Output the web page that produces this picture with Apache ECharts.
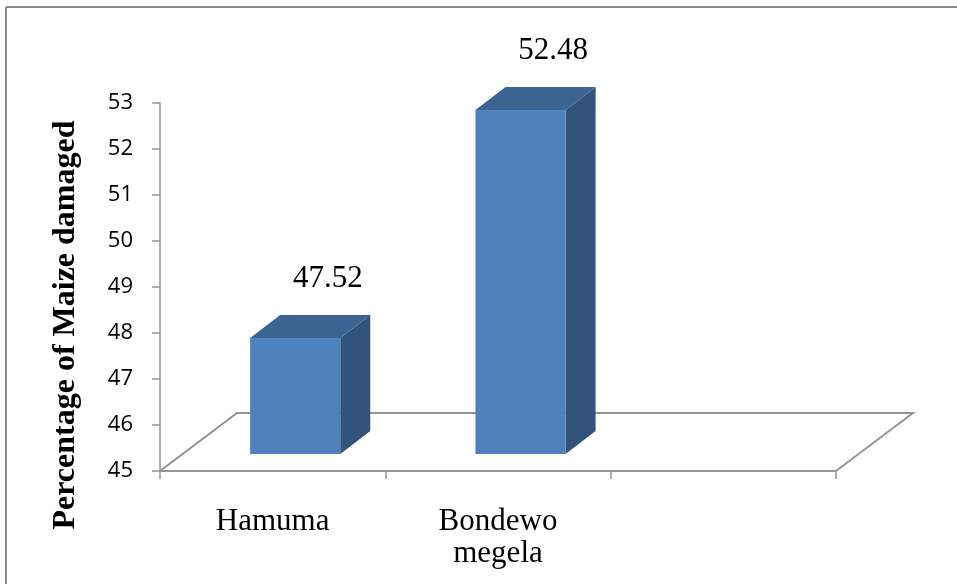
<!DOCTYPE html>
<html>
<head>
<meta charset="utf-8">
<script src="https://cdn.jsdelivr.net/npm/echarts@6/dist/echarts.min.js"></script>
<style>
  html, body { margin: 0; padding: 0; background: #fff; }
  #chart { width: 957px; height: 584px; }
</style>
</head>
<body>
<div id="chart"></div>
<script>
// Sites surveyed and the share of maize damaged at each
const categories = ['Hamuma', 'Bondewo\nmegela', ''];
const damaged = [47.52, 52.48];
const yTicks = { min: 45, max: 53, step: 1 };
const yTitle = 'Percentage of Maize damaged';

const frontColor = '#4F81BD';
const topColor = '#3C6391';
const sideColor = '#32537B';
const gridGray = '#959595';

// 3D box look: bars sit raised on a slanted floor
const depthX = 30, depthY = 23, lift = 17;

function renderFloor(params, api) {
  const cs = params.coordSys;
  const fx = 77, fy = 58;
  const bottom = cs.y + cs.height;
  return {
    type: 'polyline',
    shape: {
      points: [
        [cs.x, bottom],
        [cs.x + fx, bottom - fy],
        [cs.x + cs.width + fx, bottom - fy],
        [cs.x + cs.width, bottom]
      ]
    },
    style: { stroke: gridGray, lineWidth: 2, fill: null }
  };
}

function renderBar(params, api) {
  const cat = api.value(0);
  const val = api.value(1);
  const top = api.coord([cat, val]);
  const base = api.coord([cat, yTicks.min]);
  const band = api.size([1, 0])[0];
  const w = band * 0.4;
  const x0 = top[0] - band * 0.1;
  const x1 = x0 + w;
  const yTop = top[1] - lift;
  const yBot = base[1] - lift;
  return {
    type: 'group',
    children: [
      {
        type: 'polygon',
        shape: { points: [[x1, yTop], [x1 + depthX, yTop - depthY], [x1 + depthX, yBot - depthY], [x1, yBot]] },
        style: { fill: sideColor }
      },
      {
        type: 'polygon',
        shape: { points: [[x0, yTop], [x0 + depthX, yTop - depthY], [x1 + depthX, yTop - depthY], [x1, yTop]] },
        style: { fill: topColor }
      },
      {
        type: 'rect',
        shape: { x: x0, y: yTop, width: w, height: yBot - yTop },
        style: { fill: frontColor }
      },
      {
        type: 'text',
        x: top[0] + band * 0.245,
        y: yTop - 59,
        style: {
          text: val.toFixed(2),
          font: '31px "Liberation Serif", "Times New Roman", serif',
          fill: '#000',
          align: 'center',
          verticalAlign: 'middle'
        }
      }
    ]
  };
}

const chart = echarts.init(document.getElementById('chart'), null, { renderer: 'canvas' });
chart.setOption({
  animation: false,
  backgroundColor: '#fff',
  grid: { left: 160, right: 121, top: 103, bottom: 113, containLabel: false },
  xAxis: {
    type: 'category',
    data: categories,
    boundaryGap: true,
    axisLine: { show: true, lineStyle: { color: gridGray, width: 2 } },
    axisTick: { show: true, length: 8, lineStyle: { color: gridGray, width: 1.5 } },
    axisLabel: {
      margin: 35,
      fontFamily: '"Liberation Serif", "Times New Roman", serif',
      fontSize: 31,
      lineHeight: 32,
      color: '#000',
      interval: 0
    },
    splitLine: { show: false }
  },
  yAxis: {
    type: 'value',
    min: yTicks.min,
    max: yTicks.max,
    interval: yTicks.step,
    axisLine: { show: true, lineStyle: { color: gridGray, width: 1.5 } },
    axisTick: { show: true, length: 8, lineStyle: { color: gridGray, width: 1.5 } },
    axisLabel: {
      margin: 27,
      fontFamily: '"Open Sans", "Noto Sans", sans-serif',
      fontSize: 22,
      color: '#000'
    },
    splitLine: { show: false }
  },
  graphic: [
    {
      type: 'line',
      shape: { x1: 6, y1: 7, x2: 6, y2: 584 },
      style: { stroke: '#8a8a8a', lineWidth: 2 }
    },
    {
      type: 'line',
      shape: { x1: 6, y1: 7, x2: 957, y2: 7 },
      style: { stroke: '#8a8a8a', lineWidth: 2 }
    },
    {
      type: 'text',
      x: 66,
      y: 325,
      rotation: Math.PI / 2,
      style: {
        text: yTitle,
        font: 'bold 32px "Liberation Serif", "Times New Roman", serif',
        fill: '#000',
        align: 'center',
        verticalAlign: 'middle'
      }
    }
  ],
  series: [
    {
      type: 'custom',
      name: 'floor',
      z: 1,
      renderItem: renderFloor,
      data: [[0, yTicks.min]],
      silent: true
    },
    {
      type: 'custom',
      name: 'damaged',
      z: 3,
      renderItem: renderBar,
      encode: { x: 0, y: 1 },
      data: damaged.map((v, i) => [i, v])
    }
  ]
});
</script>
</body>
</html>
